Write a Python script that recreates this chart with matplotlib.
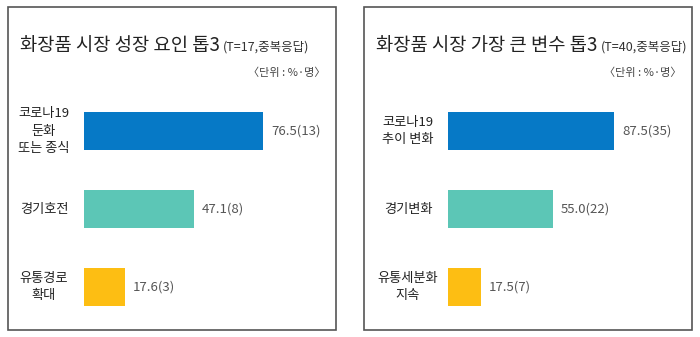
import matplotlib
matplotlib.use("Agg")
import matplotlib.pyplot as plt
from matplotlib.patches import Rectangle
from matplotlib.transforms import blended_transform_factory

plt.rcParams["font.family"] = ["Noto Sans CJK KR", "DejaVu Sans"]

# 왼쪽: 성장 요인
left_title = "화장품 시장 성장 요인 톱3"
left_note = "(T=17,중복응답)"
left_cats = ["코로나19\n둔화\n또는 종식", "경기호전", "유통경로\n확대"]
left_vals = [76.5, 47.1, 17.6]
left_counts = [13, 8, 3]

# 오른쪽: 가장 큰 변수
right_title = "화장품 시장 가장 큰 변수 톱3"
right_note = "(T=40,중복응답)"
right_cats = ["코로나19\n추이 변화", "경기변화", "유통세분화\n지속"]
right_vals = [87.5, 55.0, 17.5]
right_counts = [35, 22, 7]

unit_text = "〈단위 : %·명〉"
colors = ["#0679C6", "#5CC6B6", "#FDBE13"]

W, H = 700, 337
fig = plt.figure(figsize=(W / 100, H / 100), dpi=100)
fig.patch.set_facecolor("white")


def px(x, y):
    return x / W, 1 - y / H


def panel(box_x, bar_x, scale, label_x, title, note, cats, vals, counts):
    # 테두리
    fig.add_artist(Rectangle(px(box_x, 330), 328 / W, 323 / H, transform=fig.transFigure,
                             fill=False, edgecolor="#555555", linewidth=1.2))
    # 제목
    t = fig.text(*px(box_x + 12, 46), title, fontsize=13.5, color="#222222",
                 ha="left", va="center")
    fig.canvas.draw()
    bb = t.get_window_extent()
    fig.text((bb.x1 + 3) / W, 1 - 47 / H, note, fontsize=9, color="#333333",
             ha="left", va="center")
    fig.text(*px(box_x + 317, 73), unit_text, fontsize=8, color="#444444",
             ha="right", va="center")

    # 막대
    ax_w = 235
    ax = fig.add_axes([bar_x / W, 1 - 326 / H, ax_w / W, 234 / H])
    ax.set_xlim(0, ax_w / scale)
    ax.set_ylim(2.5, -0.5)
    ypos = list(range(len(vals)))
    ax.barh(ypos, vals, height=0.475, color=colors)
    for y, v, c in zip(ypos, vals, counts):
        ax.text(v + 8 / scale, y, f"{v:.1f}({c})", fontsize=9.5, color="#555555",
                ha="left", va="center")
    tr = blended_transform_factory(fig.transFigure, ax.transData)
    for y, cat in zip(ypos, cats):
        ax.text(label_x / W, y, cat, transform=tr, fontsize=9.5, color="#222222",
                ha="center", va="center", linespacing=1.45)
    ax.axis("off")


panel(8, 84, 2.34, 44, left_title, left_note, left_cats, left_vals, left_counts)
panel(364, 448, 1.9, 408, right_title, right_note, right_cats, right_vals, right_counts)

fig.savefig("out.png", dpi=100)
